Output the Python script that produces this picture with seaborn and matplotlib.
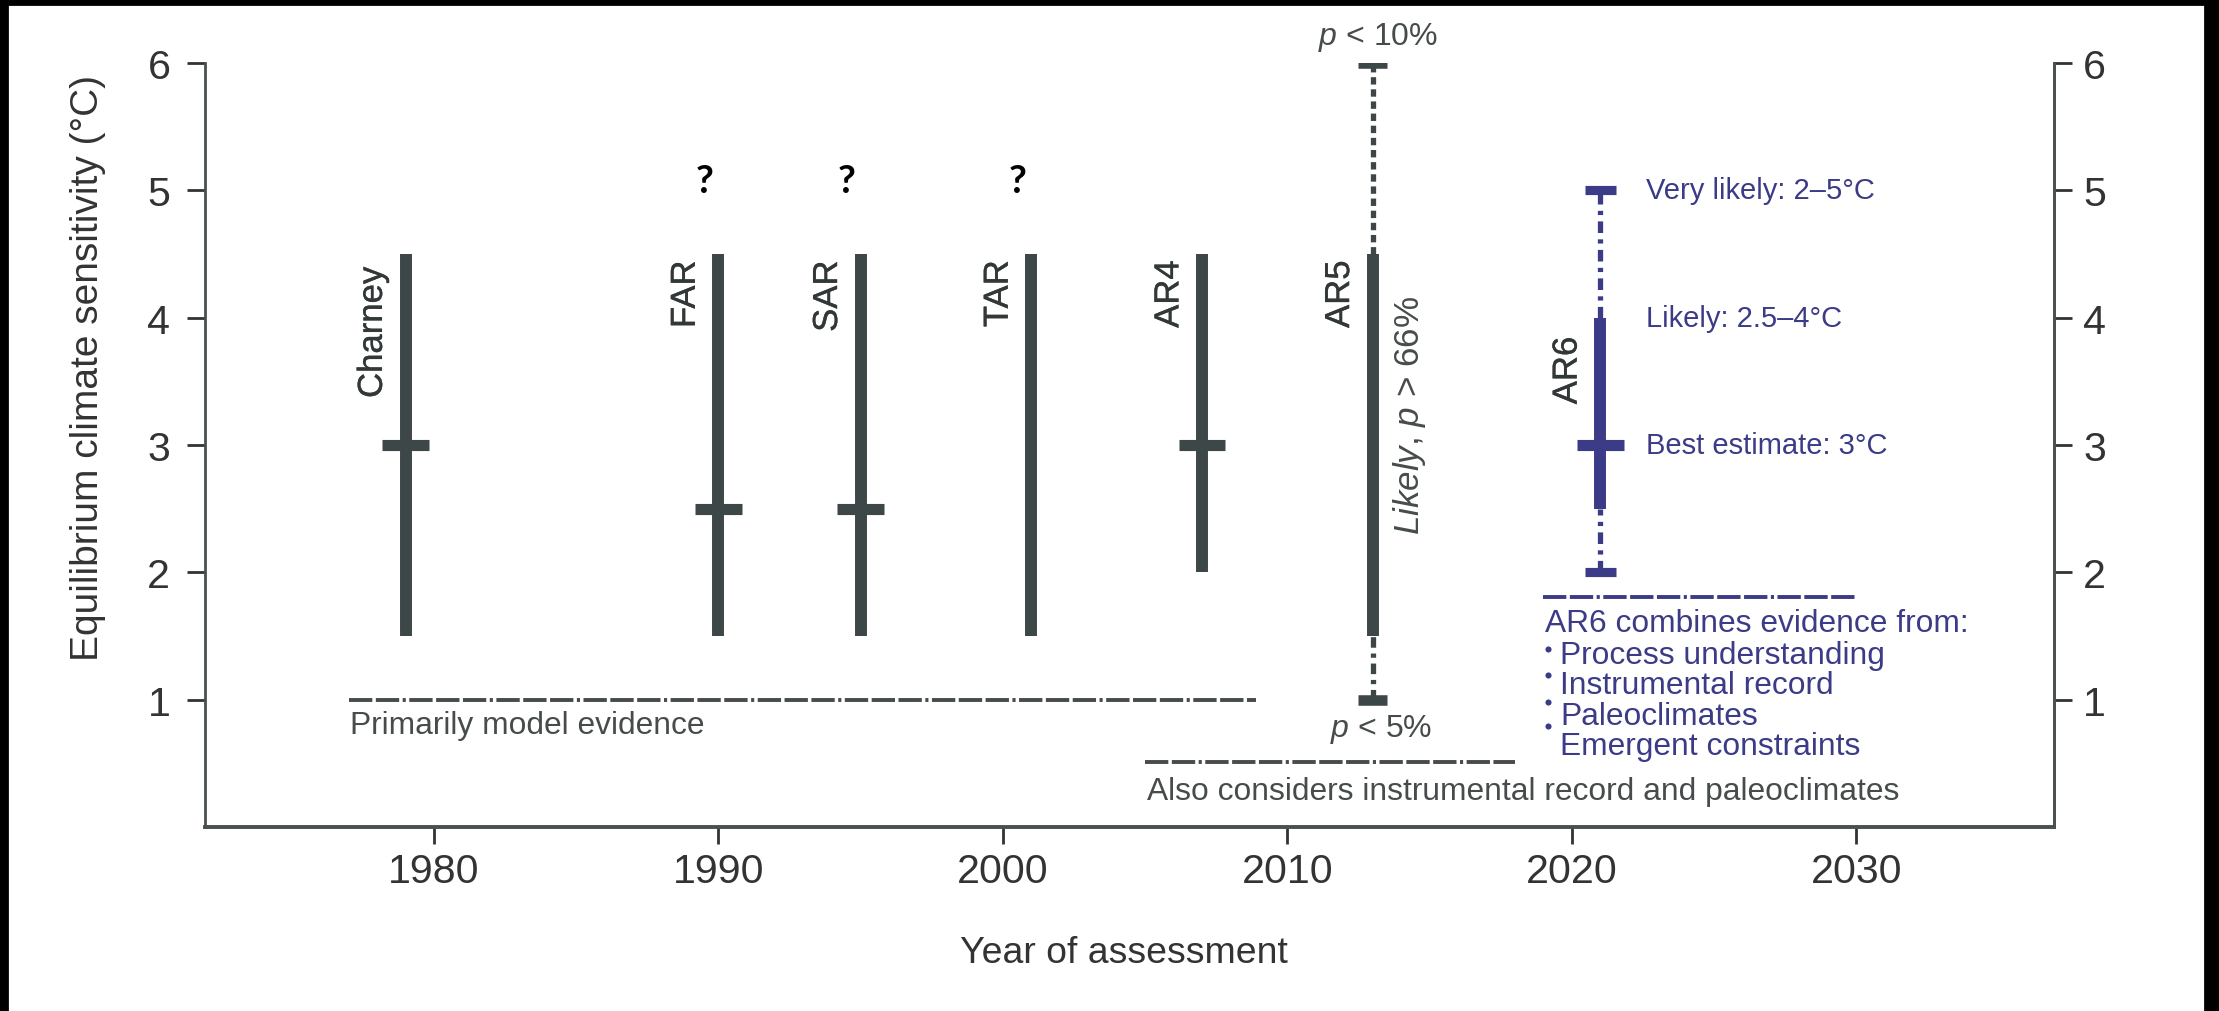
import numpy as np
import pandas as pd
import matplotlib
matplotlib.use("Agg")
import matplotlib.pyplot as plt
import seaborn as sns
from matplotlib import font_manager as fm
from matplotlib.patches import Rectangle
import matplotlib.patheffects as pe

# ---------------- data ----------------
labels = ["Charney", "FAR", "SAR", "TAR", "AR4", "AR5", "AR6"]
years = [1979, 1990, 1995, 2001, 2007, 2013, 2021]
likely_low = [1.5, 1.5, 1.5, 1.5, 2.0, 1.5, 2.5]
likely_high = [4.5, 4.5, 4.5, 4.5, 4.5, 4.5, 4.0]
best_est = [3.0, 2.5, 2.5, np.nan, 3.0, np.nan, 3.0]
label_top = [4.40, 4.45, 4.45, 4.45, 4.45, 4.45, 3.85]

tail_labels = ["AR5", "AR6"]
tail_years = [2013, 2021]
tail_low = [1.0, 2.0]
tail_high = [6.0, 5.0]

question_years = [1990, 1995, 2001]
question_y = 5.08

ar6_notes = ["Very likely: 2\u20135\u00b0C", "Likely: 2.5\u20134\u00b0C", "Best estimate: 3\u00b0C"]
ar6_note_y = [5.0, 4.0, 3.0]

evidence_text = ["Primarily model evidence",
                 "Also considers instrumental record and paleoclimates",
                 "AR6 combines evidence from:"]
evidence_x0 = [1977.0, 2005.0, 2019.0]
evidence_x1 = [2008.9, 2018.0, 2030.0]
evidence_line_y = [1.0, 0.51, 1.81]
evidence_text_y = [0.74, 0.22, 1.54]

ar6_list = ["Process understanding", "Instrumental record", "Paleoclimates", "Emergent constraints"]
ar6_list_y = [1.29, 1.05, 0.81, 0.57]
bullet_y = [1.40, 1.19, 0.98, 0.79]

xticks = [1980, 1990, 2000, 2010, 2020, 2030]
yticks = [1, 2, 3, 4, 5, 6]

GRAY = "#3e4747"
TXT = "#464b4b"
NAVY = "#3b3b87"

# ---------------- fonts ----------------
sns.set_theme(style="ticks")


def has_font(name):
    try:
        fm.findfont(fm.FontProperties(family=name), fallback_to_default=False)
        return True
    except Exception:
        return False


NARROW = has_font("Liberation Sans Narrow")
if NARROW:
    narrow = ["Liberation Sans Narrow", "Liberation Sans", "DejaVu Sans"]
    ns = 1.0
else:
    narrow = ["Liberation Sans", "DejaVu Sans"]
    ns = 0.84
regular = ["Liberation Sans", "DejaVu Sans"]

plt.rcParams["font.family"] = narrow
plt.rcParams["mathtext.fontset"] = "custom"
plt.rcParams["mathtext.rm"] = "Liberation Sans"
plt.rcParams["mathtext.it"] = "Liberation Sans:italic"

# ---------------- figure ----------------
W, H, DPI = 2219, 1012, 200
fig = plt.figure(figsize=(W / DPI, H / DPI), dpi=DPI)
L, R, B, T = 205, 2054, 828, 64
ax = fig.add_axes([L / W, 1 - B / H, (R - L) / W, (B - T) / H])
ax.set_xlim(1971.95, 2036.95)
ax.set_ylim(0, 6)

df = pd.DataFrame(dict(label=labels, year=years, low=likely_low, high=likely_high,
                       best=best_est, top=label_top))
df["color"] = [GRAY] * 6 + [NAVY]

# dashed tails
upper_styles = [(0, (1.4, 0.9)), (0, (2.2, 1.2, 0.8, 1.2))]
lower_styles = [(0, (2.0, 1.1, 0.8, 1.1)), (0, (2.2, 1.2, 0.8, 1.2))]
for i, (yr, lo, hi) in enumerate(zip(tail_years, tail_low, tail_high)):
    row = df[df.year == yr].iloc[0]
    c = row.color
    ax.plot([yr, yr], [lo, row.low], color=c, lw=1.9, ls=lower_styles[i], dash_capstyle="butt")
    ax.plot([yr, yr], [row.high, hi], color=c, lw=1.9, ls=upper_styles[i], dash_capstyle="butt")
    hw = 0.5 if i == 0 else 0.55
    ax.hlines([lo, hi], yr - hw, yr + hw, colors=c, lw=3.8 if i == 0 else 3.3, capstyle="butt")

# likely range bars
ax.vlines(df.year, df.low, df.high, colors=df.color, lw=4.3, capstyle="butt")
m = df.best.notna()
ax.hlines(df.best[m], df.year[m] - 0.82, df.year[m] + 0.82, colors=df.color[m], lw=4.0,
          capstyle="butt")

# assessment labels (all dark grey, incl. AR6)
for _, r in df.iterrows():
    ax.annotate(r.label, (r.year, r.top), xytext=(-6, 0), textcoords="offset points",
                rotation=90, ha="right", va="top", fontsize=12.5, family=regular,
                color="#323838",
                path_effects=[pe.withStroke(linewidth=0.12, foreground="#323838")])

# question marks
for yr in question_years:
    ax.text(yr - 0.5, question_y, "?", ha="center", va="center", fontsize=14,
            fontweight="bold", family=["Lato", "DejaVu Sans"], color="black")

# AR5 probability texts
ax.text(2013.2, 6.15, r"$\mathit{p}$ < 10%", ha="center", va="baseline",
        fontsize=13.7 * ns, color=TXT, clip_on=False)
ax.text(2013.3, 0.715, r"$\mathit{p}$ < 5%", ha="center", va="baseline",
        fontsize=13.7 * ns, color=TXT)
ax.text(2014.3, 3.24, r"$\mathit{Likely}$, $\mathit{p}$ > 66%", rotation=90, ha="center",
        va="center", fontsize=12.6, family=regular, color=TXT)

# AR6 notes
for t, y in zip(ar6_notes, ar6_note_y):
    ax.text(2022.6, y, t, ha="left", va="center", fontsize=12.5 * ns, color=NAVY)

# evidence lines
ev_colors = [TXT, TXT, NAVY]
ev_style = (0, (6.0, 0.9, 6.0, 0.9, 0.8, 0.9, 6.0, 0.9))
for t, x0, x1, ly, ty, c in zip(evidence_text, evidence_x0, evidence_x1, evidence_line_y,
                                evidence_text_y, ev_colors):
    ax.plot([x0, x1], [ly, ly], color=c, lw=1.4, ls=ev_style, dash_capstyle="butt")
    ax.text(x0 + 0.05, ty, t, ha="left", va="baseline", fontsize=13.6 * ns, color=c)

for t, y in zip(ar6_list, ar6_list_y):
    ax.text(2019.6, y, t, ha="left", va="baseline", fontsize=13.6 * ns, color=NAVY)
ax.plot([2019.15] * len(bullet_y), bullet_y, ls="none", marker="o", ms=1.2, color=NAVY)

# ---------------- axes styling ----------------
ax.spines["top"].set_visible(False)
for s in ["left", "right", "bottom"]:
    ax.spines[s].set_color("#4a4f4f")
    ax.spines[s].set_linewidth(1.0)
ax.spines["bottom"].set_linewidth(1.4)

tick_size = 14.8 if not NARROW else 15.5
ax.set_xticks(xticks)
ax.set_xticklabels([str(x) for x in xticks])
ax.set_yticks(yticks)
ax.set_yticklabels([str(y) for y in yticks])
ax.tick_params(axis="x", direction="out", length=6, width=1.0, pad=3, colors="#333333",
               labelsize=tick_size)
ax.tick_params(axis="y", direction="out", length=6.5, width=1.0, pad=6, colors="#333333",
               labelsize=tick_size)

ax2 = ax.twinx()
ax2.set_ylim(ax.get_ylim())
ax2.set_yticks(yticks)
ax2.set_yticklabels([str(y) for y in yticks])
ax2.tick_params(axis="y", direction="out", length=6.5, width=1.0, pad=4, colors="#333333",
                labelsize=tick_size)
for s in ["top", "left", "bottom"]:
    ax2.spines[s].set_visible(False)
ax2.spines["right"].set_color("#4a4f4f")
ax2.spines["right"].set_linewidth(1.0)
ax2.grid(False)
ax.grid(False)

fig.text(1124 / W, 1 - 963 / H, "Year of assessment", ha="center", va="baseline",
         fontsize=16 * ns, color="#333333")
fig.text(88 / W, 1 - 368 / H, "Equilibrium climate sensitivity (\u00b0C)", rotation=90,
         ha="center", va="center", fontsize=14, family=regular, color="#333333")

# black border of the reference image
fig.patches.append(Rectangle((0, 1 - 5 / H), 1, 5 / H, transform=fig.transFigure,
                             color="black", zorder=10))
fig.patches.append(Rectangle((0, 0), 7 / W, 1, transform=fig.transFigure,
                             color="black", zorder=10))
fig.patches.append(Rectangle((2205 / W, 0), 14 / W, 1, transform=fig.transFigure,
                             color="black", zorder=10))

fig.savefig("out.png", dpi=DPI)
